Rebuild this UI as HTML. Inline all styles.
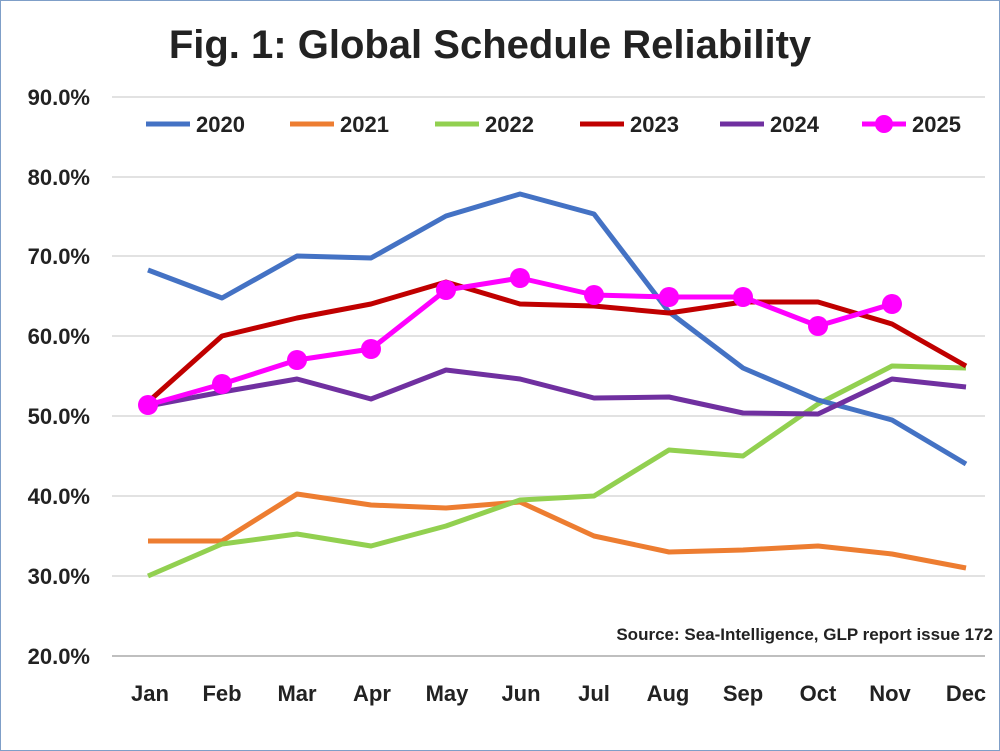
<!DOCTYPE html>
<html><head><meta charset="utf-8"><style>
html,body{margin:0;padding:0;background:#fff}
svg{display:block}
text{font-family:"Liberation Sans",Arial,sans-serif;font-weight:bold;fill:#222}
</style></head><body>
<svg width="1000" height="751" viewBox="0 0 1000 751" xmlns="http://www.w3.org/2000/svg">
<rect x="0.5" y="0.5" width="999" height="750" fill="#fff" stroke="#7f9fc8"/>
<text x="490" y="58" font-size="40" text-anchor="middle" fill="#111">Fig. 1: Global Schedule Reliability</text>
<g stroke="#d9d9d9" stroke-width="1.5">
<line x1="112" x2="985" y1="97" y2="97"/><line x1="112" x2="985" y1="177" y2="177"/>
<line x1="112" x2="985" y1="256" y2="256"/><line x1="112" x2="985" y1="336" y2="336"/>
<line x1="112" x2="985" y1="416" y2="416"/><line x1="112" x2="985" y1="496" y2="496"/>
<line x1="112" x2="985" y1="576" y2="576"/>
</g>
<line x1="112" x2="985" y1="656" y2="656" stroke="#bfbfbf" stroke-width="2"/>
<g font-size="22" text-anchor="end">
<text x="90" y="105">90.0%</text><text x="90" y="185">80.0%</text><text x="90" y="264">70.0%</text>
<text x="90" y="344">60.0%</text><text x="90" y="424">50.0%</text><text x="90" y="504">40.0%</text>
<text x="90" y="584">30.0%</text><text x="90" y="664">20.0%</text>
</g>
<g font-size="22" text-anchor="middle">
<text x="150" y="701">Jan</text><text x="222" y="701">Feb</text><text x="297" y="701">Mar</text>
<text x="372" y="701">Apr</text><text x="447" y="701">May</text><text x="521" y="701">Jun</text>
<text x="594" y="701">Jul</text><text x="668" y="701">Aug</text><text x="743" y="701">Sep</text>
<text x="818" y="701">Oct</text><text x="890" y="701">Nov</text><text x="966" y="701">Dec</text>
</g>
<text x="993" y="640" font-size="17" text-anchor="end">Source: Sea-Intelligence, GLP report issue 172</text>
<g fill="none" stroke-width="5" stroke-linejoin="round">
<polyline stroke="#ed7d31" points="148,541 222,541 297,494 371,505 446,508 520,502 594,536 669,552 743,550 818,546 892,554 966,568"/>
<polyline stroke="#92d050" points="148,576 222,544 297,534 371,546 446,526 520,500 594,496 669,450 743,456 818,404 892,366 966,368"/>
<polyline stroke="#4472c4" points="148,270 222,298 297,256 371,258 446,216 520,194 594,214 669,312 743,368 818,400 892,420 966,464"/>
<polyline stroke="#c00000" points="148,402 222,336 297,318 371,304 446,282 520,304 594,306 669,313 743,302 818,302 892,324 966,366"/>
<polyline stroke="#7030a0" points="148,406 222,392 297,379 371,399 446,370 520,379 594,398 669,397 743,413 818,414 892,379 966,387"/>
<polyline stroke="#ff00ff" points="148,405 222,384 297,360 371,349 446,290 520,278 594,295 669,297 743,297 818,326 892,304"/>
</g>
<g fill="#ff00ff">
<circle cx="148" cy="405" r="10"/><circle cx="222" cy="384" r="10"/><circle cx="297" cy="360" r="10"/>
<circle cx="371" cy="349" r="10"/><circle cx="446" cy="290" r="10"/><circle cx="520" cy="278" r="10"/>
<circle cx="594" cy="295" r="10"/><circle cx="669" cy="297" r="10"/><circle cx="743" cy="297" r="10"/>
<circle cx="818" cy="326" r="10"/><circle cx="892" cy="304" r="10"/>
</g>
<g stroke-width="5">
<line x1="146" x2="190" y1="124" y2="124" stroke="#4472c4"/>
<line x1="290" x2="334" y1="124" y2="124" stroke="#ed7d31"/>
<line x1="435" x2="479" y1="124" y2="124" stroke="#92d050"/>
<line x1="580" x2="624" y1="124" y2="124" stroke="#c00000"/>
<line x1="720" x2="764" y1="124" y2="124" stroke="#7030a0"/>
<line x1="862" x2="906" y1="124" y2="124" stroke="#ff00ff"/>
</g>
<circle cx="884" cy="124" r="9" fill="#ff00ff"/>
<g font-size="22">
<text x="196" y="132">2020</text><text x="340" y="132">2021</text><text x="485" y="132">2022</text>
<text x="630" y="132">2023</text><text x="770" y="132">2024</text><text x="912" y="132">2025</text>
</g>
</svg>
</body></html>
